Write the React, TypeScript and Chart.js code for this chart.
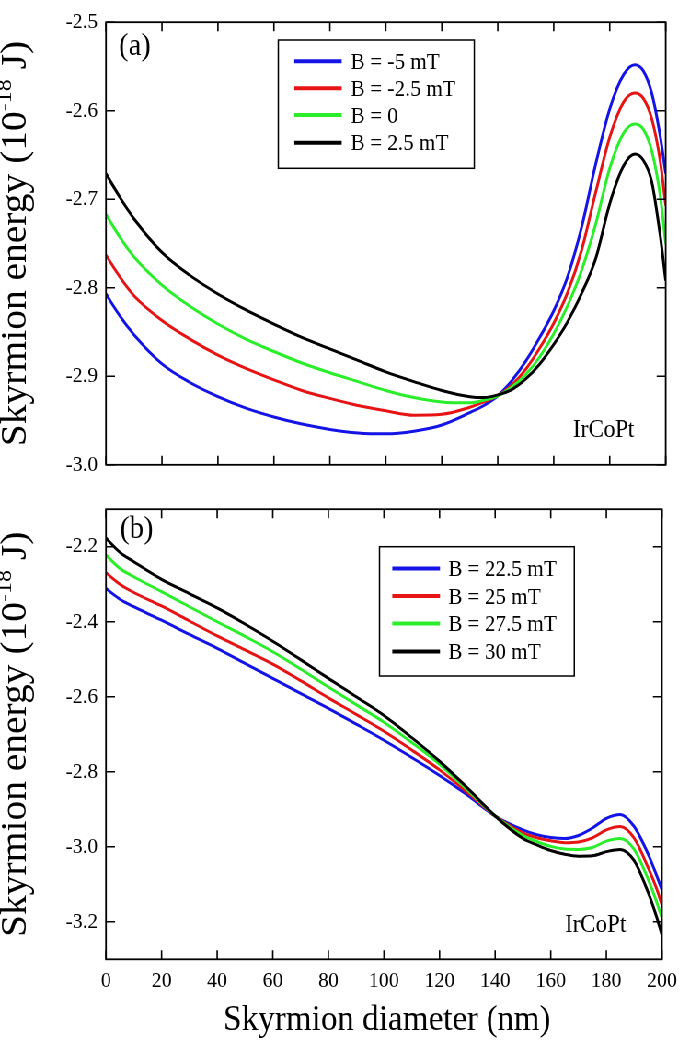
import React, { useEffect, useRef } from "react";
import { Chart, registerables } from "chart.js";

Chart.register(...registerables);

// ---------------- data ----------------
const DIAMETER_A = [0, 5, 10, 20, 30, 40, 50, 60, 70, 80, 90, 100, 110, 120, 130, 135, 140, 145, 150, 155, 160, 165, 170, 175, 180, 185, 189, 192, 195, 198, 200];
const ENERGY_A_M5 = [-2.807, -2.832, -2.853, -2.886, -2.907, -2.923, -2.936, -2.946, -2.954, -2.960, -2.964, -2.965, -2.962, -2.955, -2.941, -2.933, -2.922, -2.905, -2.883, -2.856, -2.826, -2.787, -2.731, -2.660, -2.598, -2.559, -2.548, -2.555, -2.580, -2.628, -2.671];
const ENERGY_A_M25 = [-2.763, -2.788, -2.809, -2.837, -2.858, -2.876, -2.891, -2.904, -2.916, -2.925, -2.933, -2.939, -2.944, -2.943, -2.935, -2.929, -2.922, -2.910, -2.892, -2.868, -2.840, -2.805, -2.757, -2.692, -2.630, -2.590, -2.580, -2.586, -2.609, -2.656, -2.707];
const ENERGY_A_0 = [-2.717, -2.743, -2.765, -2.797, -2.821, -2.841, -2.858, -2.872, -2.885, -2.896, -2.906, -2.916, -2.924, -2.929, -2.930, -2.927, -2.922, -2.912, -2.898, -2.878, -2.852, -2.820, -2.780, -2.728, -2.665, -2.625, -2.615, -2.621, -2.645, -2.695, -2.750];
const ENERGY_A_P25 = [-2.671, -2.698, -2.722, -2.760, -2.786, -2.807, -2.825, -2.841, -2.856, -2.869, -2.882, -2.895, -2.906, -2.916, -2.923, -2.924, -2.921, -2.915, -2.903, -2.886, -2.864, -2.838, -2.806, -2.767, -2.705, -2.662, -2.649, -2.656, -2.680, -2.740, -2.792];

const DIAMETER_B = [0, 5, 10, 20, 30, 40, 50, 60, 70, 80, 90, 100, 110, 120, 130, 140, 150, 155, 160, 165, 170, 175, 180, 185, 190, 195, 198, 200];
const ENERGY_B_225 = [-2.311, -2.340, -2.360, -2.396, -2.434, -2.471, -2.511, -2.551, -2.591, -2.631, -2.673, -2.716, -2.762, -2.810, -2.862, -2.918, -2.955, -2.968, -2.975, -2.978, -2.970, -2.950, -2.924, -2.914, -2.946, -3.019, -3.075, -3.115];
const ENERGY_B_25 = [-2.269, -2.300, -2.322, -2.358, -2.398, -2.438, -2.475, -2.513, -2.557, -2.603, -2.647, -2.692, -2.742, -2.795, -2.855, -2.918, -2.963, -2.976, -2.984, -2.989, -2.987, -2.976, -2.955, -2.946, -2.977, -3.055, -3.110, -3.155];
const ENERGY_B_275 = [-2.222, -2.258, -2.280, -2.320, -2.360, -2.400, -2.439, -2.480, -2.526, -2.574, -2.621, -2.668, -2.722, -2.780, -2.848, -2.918, -2.970, -2.986, -2.999, -3.006, -3.007, -3.002, -2.985, -2.978, -3.007, -3.086, -3.145, -3.190];
const ENERGY_B_30 = [-2.177, -2.215, -2.240, -2.287, -2.325, -2.363, -2.406, -2.452, -2.501, -2.551, -2.600, -2.650, -2.709, -2.772, -2.843, -2.918, -2.978, -2.995, -3.010, -3.020, -3.025, -3.024, -3.013, -3.007, -3.037, -3.121, -3.185, -3.235];

const LABELS_A = ["B = -5 mT", "B = -2.5 mT", "B = 0", "B = 2.5 mT"];
const LABELS_B = ["B = 22.5 mT", "B = 25 mT", "B = 27.5 mT", "B = 30 mT"];

const X_TICKS = [0, 20, 40, 60, 80, 100, 120, 140, 160, 180, 200];
const Y_TICKS_A = [-3.0, -2.9, -2.8, -2.7, -2.6, -2.5];
const Y_TICKS_B = [-3.2, -3.0, -2.8, -2.6, -2.4, -2.2];

const X_TITLE = "Skyrmion diameter (nm)";
const Y_TITLE_MAIN = "Skyrmion energy (10";
const Y_TITLE_SUP = "-18";
const Y_TITLE_END = " J)";
const PANEL_TAGS = ["(a)", "(b)"];
const MATERIAL = "IrCoPt";

// ---------------- styles ----------------
const COLORS = ["#1414e6", "#e61414", "#2aee2a", "#000000"];
const FONT = '"Liberation Serif", "Times New Roman", serif';
const K = 0.92; // horizontal squeeze of the original figure
const INNER_W = Math.round(685 / K);
const toIn = (xd: number) => xd / K;

type PanelCfg = {
  top: number;
  height: number;
  areaTop: number;
  areaBottom: number;
  xs: number[];
  series: number[][];
  labels: string[];
  yMin: number;
  yMax: number;
  yTicks: number[];
  showX: boolean;
  legend: { left: number; top: number; right: number; bottom: number; lineX0: number; lineX1: number; textX: number; rows: number[] };
  tag: { x: number; y: number; text: string };
  mat: { x: number; y: number };
  yTitleBase: number;
  xTitle?: { cx: number; y: number };
};

const AREA_LEFT = 106;
const AREA_RIGHT = 665.7;

function makeDecor(cfg: PanelCfg) {
  return {
    id: "decor",
    afterDraw(chart: any) {
      const ctx = chart.ctx as CanvasRenderingContext2D;
      const a = chart.chartArea;
      const xs = chart.scales.x;
      const ys = chart.scales.y;
      ctx.save();
      ctx.strokeStyle = "#000";
      ctx.fillStyle = "#000";
      // frame
      ctx.lineWidth = 1.8;
      ctx.strokeRect(a.left, a.top, a.right - a.left, a.bottom - a.top);
      // inward ticks
      ctx.lineWidth = 1.6;
      ctx.beginPath();
      xs.ticks.forEach((t: any) => {
        const px = xs.getPixelForValue(t.value);
        ctx.moveTo(px, a.bottom);
        ctx.lineTo(px, a.bottom - 9);
        ctx.moveTo(px, a.top);
        ctx.lineTo(px, a.top + 9);
      });
      ys.ticks.forEach((t: any) => {
        const py = ys.getPixelForValue(t.value);
        ctx.moveTo(a.left, py);
        ctx.lineTo(a.left + toIn(9), py);
        ctx.moveTo(a.right, py);
        ctx.lineTo(a.right - toIn(9), py);
      });
      ctx.stroke();

      // legend
      const L = cfg.legend;
      ctx.lineWidth = 1.5;
      ctx.strokeRect(toIn(L.left), L.top - cfg.top, toIn(L.right - L.left), L.bottom - L.top);
      ctx.font = `23px ${FONT}`;
      ctx.textBaseline = "alphabetic";
      ctx.textAlign = "left";
      chart.data.datasets.forEach((ds: any, i: number) => {
        const y = L.rows[i] - cfg.top;
        ctx.strokeStyle = ds.borderColor;
        ctx.lineWidth = 4;
        ctx.beginPath();
        ctx.moveTo(toIn(L.lineX0), y);
        ctx.lineTo(toIn(L.lineX1), y);
        ctx.stroke();
        ctx.fillText(ds.label, toIn(L.textX), y + 7.6);
      });

      // panel tag & material
      ctx.font = `31px ${FONT}`;
      ctx.fillText(cfg.tag.text, toIn(cfg.tag.x), cfg.tag.y - cfg.top);
      ctx.font = `25px ${FONT}`;
      ctx.fillText(MATERIAL, toIn(cfg.mat.x), cfg.mat.y - cfg.top);

      // y title (rotated) with superscript
      const TF = 39.5;
      const main = `${TF}px ${FONT}`;
      const sup = `${Math.round(TF * 0.62)}px ${FONT}`;
      ctx.font = main;
      const w1 = ctx.measureText(Y_TITLE_MAIN).width;
      const w3 = ctx.measureText(Y_TITLE_END).width;
      ctx.font = sup;
      const w2 = ctx.measureText(Y_TITLE_SUP).width;
      const total = w1 + w2 + w3;
      ctx.save();
      ctx.translate(toIn(cfg.yTitleBase), (a.top + a.bottom) / 2);
      ctx.rotate(-Math.PI / 2);
      let x = -total / 2;
      ctx.font = main;
      ctx.fillText(Y_TITLE_MAIN, x, 0);
      x += w1;
      ctx.font = sup;
      ctx.fillText(Y_TITLE_SUP, x, -TF * 0.4);
      x += w2;
      ctx.font = main;
      ctx.fillText(Y_TITLE_END, x, 0);
      ctx.restore();

      if (cfg.xTitle) {
        ctx.font = `36px ${FONT}`;
        ctx.textAlign = "center";
        ctx.fillText(X_TITLE, toIn(cfg.xTitle.cx), cfg.xTitle.y - cfg.top);
      }
      ctx.restore();
    },
  };
}

function Panel({ cfg }: { cfg: PanelCfg }) {
  const ref = useRef<HTMLCanvasElement | null>(null);
  useEffect(() => {
    if (!ref.current) return;
    const areaTop = cfg.areaTop - cfg.top;
    const areaBottom = cfg.areaBottom - cfg.top;
    const chart = new Chart(ref.current, {
      type: "line",
      data: {
        datasets: cfg.series.map((vals, i) => ({
          label: cfg.labels[i],
          data: cfg.xs.map((x, j) => ({ x, y: vals[j] })),
          borderColor: COLORS[i],
          backgroundColor: COLORS[i],
          borderWidth: 3,
          pointRadius: 0,
          fill: false,
          cubicInterpolationMode: "monotone" as const,
          order: 3 - i,
        })),
      },
      options: {
        responsive: false,
        animation: false,
        events: [],
        layout: {
          padding: { top: areaTop, left: 0, bottom: 0, right: INNER_W - toIn(AREA_RIGHT) },
        },
        plugins: { legend: { display: false }, tooltip: { enabled: false } },
        scales: {
          x: {
            type: "linear",
            min: 0,
            max: 200,
            grid: { display: false, drawTicks: false },
            border: { display: false },
            afterBuildTicks: (s: any) => {
              s.ticks = X_TICKS.map((v) => ({ value: v }));
            },
            afterFit: (s: any) => {
              s.height = cfg.height - areaBottom;
            },
            ticks: {
              display: cfg.showX,
              autoSkip: false,
              maxRotation: 0,
              padding: 9,
              color: "#000",
              font: { family: FONT, size: 22 },
              callback: (v: any) => String(v),
            },
          },
          y: {
            type: "linear",
            min: cfg.yMin,
            max: cfg.yMax,
            grid: { display: false, drawTicks: false },
            border: { display: false },
            afterBuildTicks: (s: any) => {
              s.ticks = cfg.yTicks.map((v) => ({ value: v }));
            },
            afterFit: (s: any) => {
              s.width = toIn(AREA_LEFT);
            },
            ticks: {
              padding: 9,
              color: "#000",
              font: { family: FONT, size: 22 },
              callback: (v: any) => Number(v).toFixed(1),
            },
          },
        },
      },
      plugins: [makeDecor(cfg)],
    });
    return () => chart.destroy();
  }, [cfg]);
  return (
    <canvas
      ref={ref}
      width={INNER_W}
      height={cfg.height}
      style={{ position: "absolute", left: 0, top: cfg.top, width: INNER_W, height: cfg.height }}
    />
  );
}

const PANEL_A: PanelCfg = {
  top: 0,
  height: 487,
  areaTop: 13.3,
  areaBottom: 469.3,
  xs: DIAMETER_A,
  series: [ENERGY_A_M5, ENERGY_A_M25, ENERGY_A_0, ENERGY_A_P25],
  labels: LABELS_A,
  yMin: -3.0,
  yMax: -2.5,
  yTicks: Y_TICKS_A,
  showX: false,
  legend: { left: 278.3, top: 40, right: 474.3, bottom: 168.3, lineX0: 294.3, lineX1: 341.7, textX: 350.7, rows: [61.3, 88.3, 115, 142.7] },
  tag: { x: 119, y: 55, text: PANEL_TAGS[0] },
  mat: { x: 573, y: 436.7 },
  yTitleBase: 26,
};

const PANEL_B: PanelCfg = {
  top: 487,
  height: 554,
  areaTop: 504,
  areaBottom: 959.3,
  xs: DIAMETER_B,
  series: [ENERGY_B_225, ENERGY_B_25, ENERGY_B_275, ENERGY_B_30],
  labels: LABELS_B,
  yMin: -3.3,
  yMax: -2.1,
  yTicks: Y_TICKS_B,
  showX: true,
  legend: { left: 379.5, top: 546.7, right: 574.3, bottom: 676, lineX0: 392.3, lineX1: 440, textX: 448.3, rows: [568.5, 596, 623.5, 651.5] },
  tag: { x: 120, y: 538, text: PANEL_TAGS[1] },
  mat: { x: 565, y: 931.7 },
  yTitleBase: 26,
  xTitle: { cx: 387, y: 1030 },
};

export default function App() {
  return (
    <div
      style={{
        position: "absolute",
        left: 0,
        top: 0,
        width: INNER_W,
        height: 1041,
        background: "#fff",
        transform: `scaleX(${K})`,
        transformOrigin: "0 0",
        overflow: "hidden",
      }}
    >
      <Panel cfg={PANEL_A} />
      <Panel cfg={PANEL_B} />
    </div>
  );
}
